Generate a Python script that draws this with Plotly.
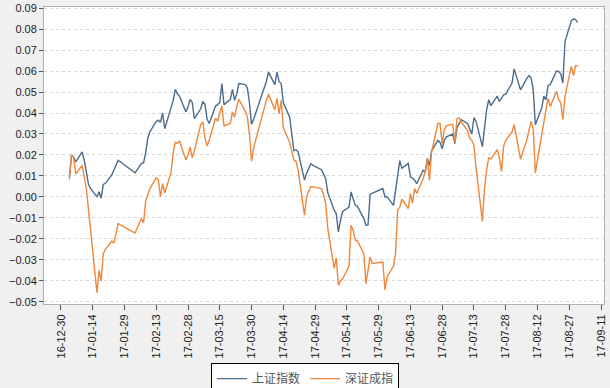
import plotly.graph_objects as go

dates = [
    "2017-01-03", "2017-01-04", "2017-01-05", "2017-01-06", "2017-01-09", "2017-01-10",
    "2017-01-11", "2017-01-12", "2017-01-13", "2017-01-16", "2017-01-17", "2017-01-18",
    "2017-01-19", "2017-01-20", "2017-01-23", "2017-01-24", "2017-01-25", "2017-01-26",
    "2017-02-03", "2017-02-06", "2017-02-07", "2017-02-08", "2017-02-09", "2017-02-10",
    "2017-02-13", "2017-02-14", "2017-02-15", "2017-02-16", "2017-02-17", "2017-02-20",
    "2017-02-21", "2017-02-22", "2017-02-23", "2017-02-24", "2017-02-27", "2017-02-28",
    "2017-03-01", "2017-03-02", "2017-03-03", "2017-03-06", "2017-03-07", "2017-03-08",
    "2017-03-09", "2017-03-10", "2017-03-13", "2017-03-14", "2017-03-15", "2017-03-16",
    "2017-03-17", "2017-03-20", "2017-03-21", "2017-03-22", "2017-03-23", "2017-03-24",
    "2017-03-27", "2017-03-28", "2017-03-29", "2017-03-30", "2017-03-31", "2017-04-05",
    "2017-04-06", "2017-04-07", "2017-04-10", "2017-04-11", "2017-04-12", "2017-04-13",
    "2017-04-14", "2017-04-17", "2017-04-18", "2017-04-19", "2017-04-20", "2017-04-21",
    "2017-04-24", "2017-04-25", "2017-04-26", "2017-04-27", "2017-04-28", "2017-05-02",
    "2017-05-03", "2017-05-04", "2017-05-05", "2017-05-08", "2017-05-09", "2017-05-10",
    "2017-05-11", "2017-05-12", "2017-05-15", "2017-05-16", "2017-05-17", "2017-05-18",
    "2017-05-19", "2017-05-22", "2017-05-23", "2017-05-24", "2017-05-25", "2017-05-26",
    "2017-05-31", "2017-06-01", "2017-06-02", "2017-06-05", "2017-06-06", "2017-06-07",
    "2017-06-08", "2017-06-09", "2017-06-12", "2017-06-13", "2017-06-14", "2017-06-15",
    "2017-06-16", "2017-06-19", "2017-06-20", "2017-06-21", "2017-06-22", "2017-06-23",
    "2017-06-26", "2017-06-27", "2017-06-28", "2017-06-29", "2017-06-30", "2017-07-03",
    "2017-07-04", "2017-07-05", "2017-07-06", "2017-07-07", "2017-07-10", "2017-07-11",
    "2017-07-12", "2017-07-13", "2017-07-14", "2017-07-17", "2017-07-18", "2017-07-19",
    "2017-07-20", "2017-07-21", "2017-07-24", "2017-07-25", "2017-07-26", "2017-07-27",
    "2017-07-28", "2017-07-31", "2017-08-01", "2017-08-02", "2017-08-03", "2017-08-04",
    "2017-08-07", "2017-08-08", "2017-08-09", "2017-08-10", "2017-08-11", "2017-08-14",
    "2017-08-15", "2017-08-16", "2017-08-17", "2017-08-18", "2017-08-21", "2017-08-22",
    "2017-08-23", "2017-08-24", "2017-08-25", "2017-08-28", "2017-08-29", "2017-08-30",
    "2017-08-31",
]

shanghai = [
    0.0095, 0.0200, 0.0190, 0.0167, 0.0215, 0.0175,
    0.0120, 0.0060, 0.0040, 0.0000, 0.0025, -0.0006,
    0.0060, 0.0065, 0.0105, 0.0130, 0.0150, 0.0175,
    0.0115, 0.0160, 0.0162, 0.0210, 0.0280, 0.0310,
    0.0360, 0.0366, 0.0355, 0.0400, 0.0325, 0.0420,
    0.0460, 0.0513, 0.0490, 0.0480, 0.0405, 0.0430,
    0.0465, 0.0450, 0.0373, 0.0420, 0.0455, 0.0440,
    0.0370, 0.0350, 0.0433, 0.0440, 0.0450, 0.0540,
    0.0440, 0.0465, 0.0513, 0.0460, 0.0490, 0.0540,
    0.0535, 0.0520, 0.0450, 0.0346, 0.0370, 0.0520,
    0.0550, 0.0595, 0.0535, 0.0595, 0.0550, 0.0540,
    0.0450, 0.0380, 0.0300, 0.0220, 0.0225, 0.0215,
    0.0080, 0.0114, 0.0135, 0.0159, 0.0150, 0.0130,
    0.0110, 0.0087, 0.0020, -0.0063, -0.0080, -0.0167,
    -0.0110, -0.0070, -0.0048, 0.0024, -0.0010, -0.0040,
    -0.0045, -0.0103, -0.0135, -0.0133, 0.0013, 0.0018,
    0.0040, 0.0000, 0.0000, -0.0040, 0.0040, 0.0120,
    0.0173, 0.0137, 0.0160, 0.0095, 0.0090, 0.0080,
    0.0063, 0.0127, 0.0120, 0.0183, 0.0150, 0.0220,
    0.0270, 0.0260, 0.0230, 0.0270, 0.0286, 0.0300,
    0.0254, 0.0330, 0.0350, 0.0368, 0.0350, 0.0325,
    0.0300, 0.0378, 0.0360, 0.0240, 0.0330, 0.0416,
    0.0463, 0.0435, 0.0480, 0.0455, 0.0470, 0.0487,
    0.0490, 0.0543, 0.0610, 0.0580, 0.0540, 0.0510,
    0.0565, 0.0578, 0.0567, 0.0510, 0.0344, 0.0424,
    0.0480, 0.0463, 0.0530, 0.0535, 0.0600, 0.0598,
    0.0587, 0.0543, 0.0740, 0.0840, 0.0848, 0.0845,
    0.0832,
]

shenzhen = [
    0.0083, 0.0200, 0.0190, 0.0110, 0.0150, 0.0103,
    0.0040, -0.0060, -0.0160, -0.0456, -0.0350, -0.0400,
    -0.0270, -0.0250, -0.0210, -0.0220, -0.0175, -0.0127,
    -0.0172, -0.0103, -0.0124, -0.0020, 0.0010, 0.0040,
    0.0092, 0.0080, 0.0000, 0.0064, 0.0020, 0.0116,
    0.0210, 0.0260, 0.0255, 0.0267, 0.0176, 0.0200,
    0.0238, 0.0187, 0.0220, 0.0345, 0.0357, 0.0280,
    0.0243, 0.0270, 0.0375, 0.0360, 0.0400, 0.0433,
    0.0338, 0.0350, 0.0405, 0.0380, 0.0430, 0.0465,
    0.0410, 0.0383, 0.0300, 0.0171, 0.0235, 0.0430,
    0.0460, 0.0489, 0.0416, 0.0470, 0.0397, 0.0460,
    0.0330, 0.0260, 0.0220, 0.0175, 0.0170, 0.0127,
    -0.0087, 0.0000, 0.0030, 0.0050, 0.0048, 0.0040,
    0.0010, -0.0030, -0.0150, -0.0340, -0.0290, -0.0420,
    -0.0400, -0.0390, -0.0330, -0.0135, -0.0160, -0.0206,
    -0.0210, -0.0270, -0.0413, -0.0340, -0.0286, -0.0317,
    -0.0310, -0.0443, -0.0380, -0.0330, -0.0270, -0.0063,
    -0.0048, -0.0010, -0.0055, 0.0016, -0.0030, 0.0040,
    0.0016, 0.0087, 0.0120, 0.0180, 0.0080, 0.0214,
    0.0350, 0.0350, 0.0254, 0.0320, 0.0340, 0.0346,
    0.0260, 0.0373, 0.0378, 0.0357, 0.0317, 0.0280,
    0.0270, 0.0246, 0.0140, -0.0116, 0.0040, 0.0130,
    0.0186, 0.0180, 0.0225, 0.0186, 0.0122, 0.0240,
    0.0270, 0.0310, 0.0344, 0.0290, 0.0240, 0.0180,
    0.0273, 0.0310, 0.0360, 0.0320, 0.0114, 0.0297,
    0.0360, 0.0410, 0.0470, 0.0430, 0.0503, 0.0465,
    0.0448, 0.0370, 0.0480, 0.0622, 0.0578, 0.0625,
    0.0625,
]

series_names = ["上证指数", "深证成指"]
colors = ["#4d6b8c", "#f0873a"]

fig = go.Figure()
for name, vals, col in zip(series_names, [shanghai, shenzhen], colors):
    fig.add_trace(go.Scatter(x=dates, y=vals, mode="lines", name=name,
                             line=dict(color=col, width=1.4)))

tick_font = dict(family="Liberation Sans, Arial, sans-serif", size=11, color="#222222")

fig.update_layout(
    width=610, height=388,
    margin=dict(l=44, r=6, t=7, b=84, autoexpand=False),
    paper_bgcolor="#f0f0f0",
    plot_bgcolor="#ffffff",
    showlegend=True,
    legend=dict(orientation="h", xref="container", yref="container",
                x=0.5, xanchor="center", y=0.064, yanchor="top",
                bgcolor="#ffffff", bordercolor="#000000", borderwidth=1,
                font=dict(family="Noto Sans CJK SC", size=12, color="#555555"),
                itemwidth=30, entrywidth=48, entrywidthmode="pixels",
                tracegroupgap=0),
    xaxis=dict(type="date", range=["2016-12-22", "2017-09-12 10:00"],
               tick0="2016-12-30", dtick=15 * 86400000, tickformat="%y-%m-%d",
               tickangle=-90, ticks="outside", ticklen=5, tickcolor="#555555",
               showgrid=False, showline=True, linecolor="#b0b0b0", linewidth=1,
               mirror=True, tickfont=tick_font),
    yaxis=dict(range=[-0.051, 0.0905], dtick=0.01, tick0=0, tickformat=".2f",
               ticks="outside", ticklen=4, tickcolor="#555555",
               showgrid=True, gridcolor="#d8d8d8", griddash="3px,3px", gridwidth=1,
               zeroline=False, showline=True, linecolor="#b0b0b0", linewidth=1,
               mirror=True, tickfont=tick_font),
)

fig.write_html("out.html", config={"displayModeBar": False},
               post_script="document.body.style.margin='0';")
